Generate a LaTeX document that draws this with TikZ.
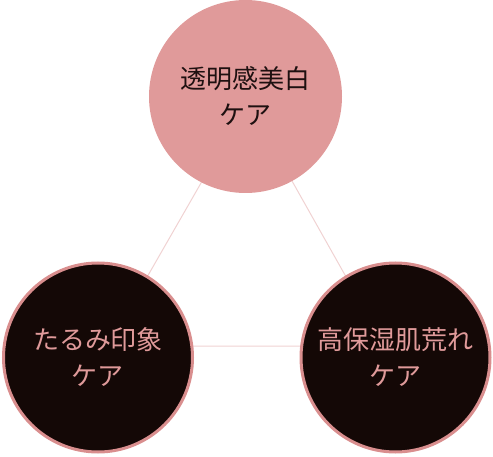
\documentclass[tikz,border=0pt]{standalone}
\usepackage{fontspec}
\newfontfamily\jpfont{Noto Sans CJK JP}
\usetikzlibrary{backgrounds,calc}
\definecolor{rosefill}{HTML}{E09A9A}
\definecolor{roseline}{HTML}{D98E8E}
\definecolor{darkfill}{HTML}{140806}
\definecolor{linkpink}{HTML}{F0D2D2}
\definecolor{darktext}{HTML}{1E1010}
\tikzset{
	care/.style={circle,align=center,inner sep=0pt,
		font=\jpfont\fontsize{26}{36}\selectfont},
	topcare/.style={care,fill=rosefill,text=darktext,minimum size=193pt},
	lowcare/.style={care,fill=darkfill,draw=roseline,line width=3pt,
		text=rosefill,minimum size=189pt},
}
\begin{document}
\begin{tikzpicture}[x=1pt,y=1pt]
			\path[use as bounding box](0,0)rectangle(493,456);
			\node[topcare](bright)at(245.5,359.5){透明感美白\\ケア};
			\node[lowcare](sag)at(98,98.5){たるみ印象\\ケア};
			\node[lowcare](moist)at(395.5,98.5){高保湿肌荒れ\\ケア};
			\coordinate(apex)at($(bright.center)+(2,-5.5)$);
			\coordinate(sagend)at($(sag.center)+(9.5,11.5)$);
			\coordinate(moistend)at($(moist.center)+(-10.5,11.5)$);
			\begin{scope}[on background layer]
				\draw[linkpink,line width=1pt](apex)--(sagend)--(moistend)--cycle;
			\end{scope}
		\end{tikzpicture}
\end{document}
